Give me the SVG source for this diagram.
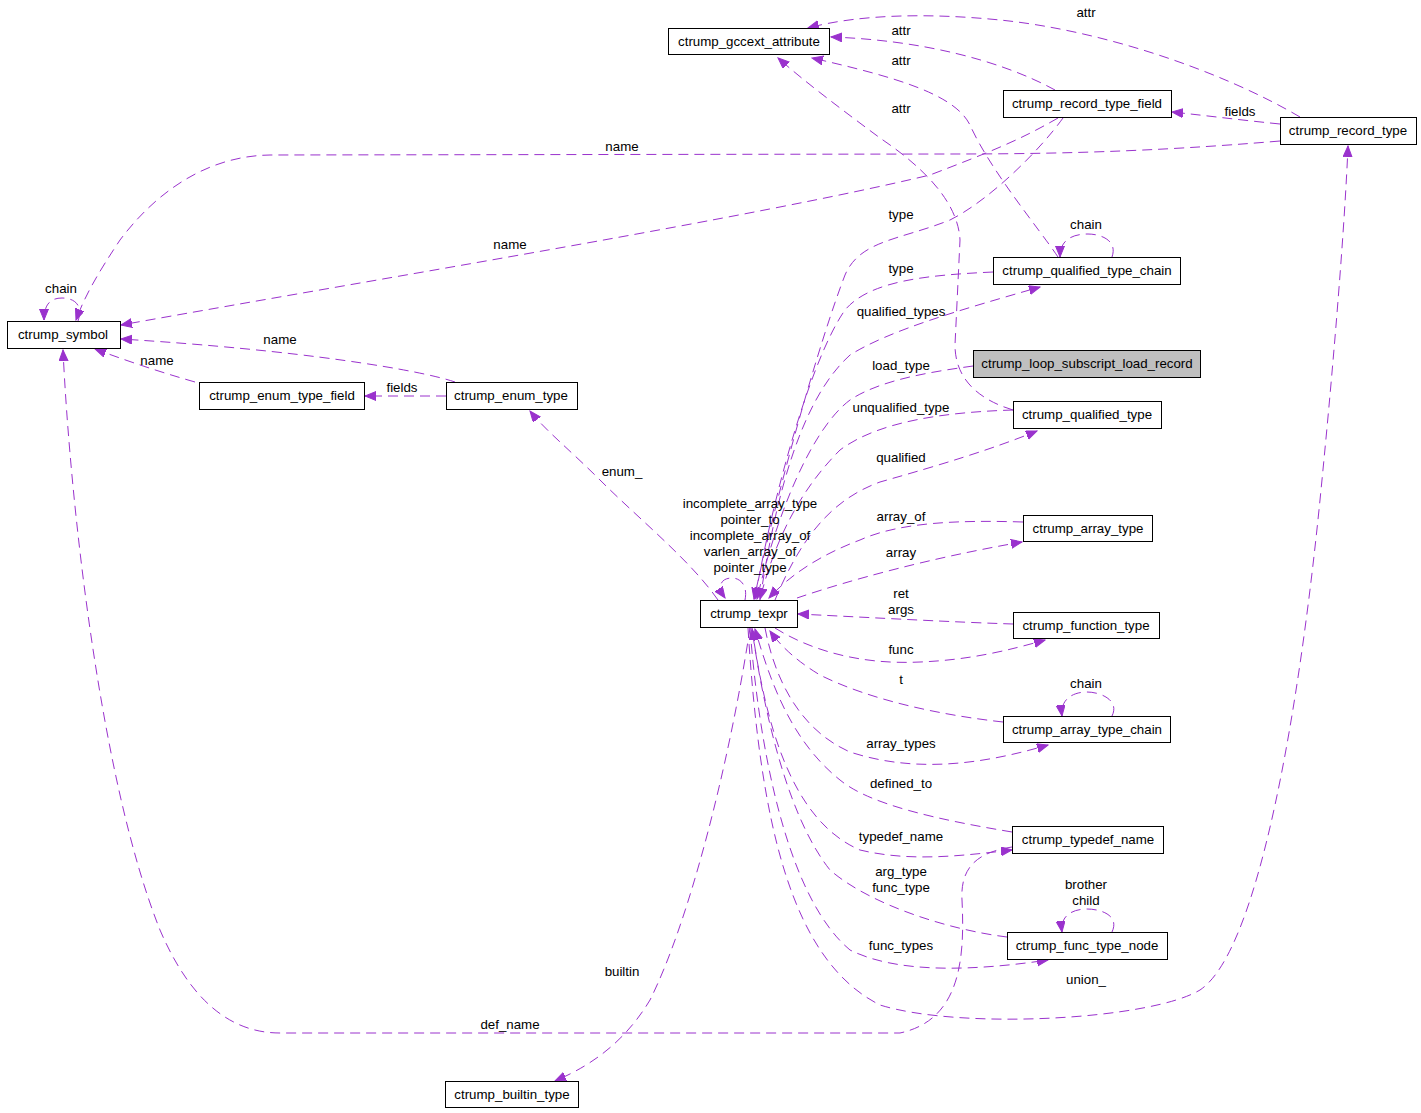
<svg xmlns="http://www.w3.org/2000/svg" width="1421" height="1113" viewBox="0 0 1421 1113">
<style>
.n rect{fill:#fff;stroke:#000;stroke-width:1}
.n.root rect{fill:#bfbfbf}
text{font-family:"Liberation Sans",Arial,sans-serif;font-size:13.3px;fill:#000;text-anchor:middle}
.e path{fill:none;stroke:#9a32cd;stroke-width:1;stroke-dasharray:10,6;marker-end:url(#ah)}
</style>
<defs>
<marker id="ah" markerUnits="userSpaceOnUse" markerWidth="12" markerHeight="10" refX="11" refY="4.5" orient="auto">
<path d="M0,0 L11,4.5 L0,9 z" fill="#9a32cd" stroke="#9a32cd"/>
</marker>
</defs>
<rect width="1421" height="1113" fill="#fff"/>
<g id="connectors" class="e">
<path d="M1300,117 C1220,70 1100,30 1000,20 C930,13 860,14 808,28"/>
<path d="M1055,90 C1000,60 920,40 831,37"/>
<path d="M1058,257 C1040,230 990,170 970,125 C955,95 900,78 812,58"/>
<path d="M1013,410 C980,400 955,380 955,345 L960,240 C958,200 920,165 880,138 C845,112 805,82 778,58"/>
<path d="M1280,124 C1240,120 1210,116 1172,112"/>
<path d="M1280,141 C1150,152 1050,154 950,154 L270,155 C200,156 150,200 120,240 C100,270 85,295 76,320"/>
<path d="M1058,118 C1020,140 990,152 930,175 C750,218 400,275 121,325"/>
<path d="M1063,118 C1040,150 990,200 950,220 C900,240 860,240 845,275 C820,340 780,480 754,599"/>
<path d="M993,272 C930,275 870,280 845,310 C810,360 772,500 755,599"/>
<path d="M760,600 C775,500 800,400 850,355 C890,330 960,310 1040,287"/>
<path d="M973,366 C930,372 880,380 850,400 C810,430 775,520 757,599"/>
<path d="M1013,410 C950,412 880,420 840,450 C800,490 775,540 760,599"/>
<path d="M775,600 C800,540 830,500 880,482 C940,465 990,450 1037,431"/>
<path d="M1023,522 C960,520 900,522 860,540 C820,555 790,575 769,598"/>
<path d="M797,598 C850,580 930,558 1022,542"/>
<path d="M1013,624 C950,622 880,618 798,614"/>
<path d="M775,628 C810,650 860,665 920,662 C970,660 1010,650 1045,640"/>
<path d="M1003,722 C940,715 870,700 820,675 C795,660 780,645 770,631"/>
<path d="M765,628 C775,680 800,730 850,752 C920,775 990,762 1048,745"/>
<path d="M1012,832 C940,820 870,805 840,780 C790,740 770,680 755,629"/>
<path d="M752,628 C765,720 790,820 860,850 C910,862 960,856 1012,850"/>
<path d="M1007,937 C950,930 870,905 830,870 C790,820 765,720 752,629"/>
<path d="M750,628 C760,760 790,900 850,950 C900,975 980,970 1048,960"/>
<path d="M748,628 C760,820 790,960 880,1005 C960,1030 1150,1020 1200,990 C1260,950 1300,700 1320,500 C1335,350 1345,220 1348,146"/>
<path d="M718,600 C690,560 640,520 600,480 C570,450 545,430 530,411"/>
<path d="M750,628 C730,760 690,920 650,1000 C620,1050 580,1070 555,1081"/>
<path d="M1012,847 C980,852 960,865 962,900 C965,960 960,1020 900,1033 L280,1033 C230,1033 190,1000 160,930 C100,780 70,500 63,350"/>
<path d="M455,382 C420,370 300,350 121,339"/>
<path d="M446,396 L365,396"/>
<path d="M195,382 C160,372 130,362 95,349"/>
<path d="M745,600 C748,585 740,578 732,578 C722,578 716,585 725,598"/>
<path d="M78,321 C84,303 72,298 62,298 C50,298 44,305 44,320"/>
<path d="M1112,257 C1118,240 1100,234 1088,234 C1072,234 1060,240 1060,257"/>
<path d="M1112,716 C1120,700 1100,692 1087,692 C1072,692 1060,700 1062,716"/>
<path d="M1112,932 C1120,915 1100,909 1087,909 C1072,909 1060,916 1062,932"/>
</g>
<g id="labels">
<text x="1086" y="17">attr</text>
<text x="901" y="35">attr</text>
<text x="901" y="65">attr</text>
<text x="901" y="113">attr</text>
<text x="1240" y="116">fields</text>
<text x="622" y="151">name</text>
<text x="901" y="219">type</text>
<text x="1086" y="229">chain</text>
<text x="510" y="249">name</text>
<text x="901" y="273">type</text>
<text x="61" y="293">chain</text>
<text x="901" y="316">qualified_types</text>
<text x="280" y="344">name</text>
<text x="157" y="365">name</text>
<text x="901" y="370">load_type</text>
<text x="402" y="392">fields</text>
<text x="901" y="412">unqualified_type</text>
<text x="901" y="462">qualified</text>
<text x="622" y="476">enum_</text>
<text x="750" y="508">incomplete_array_type</text>
<text x="750" y="524">pointer_to</text>
<text x="750" y="540">incomplete_array_of</text>
<text x="750" y="556">varlen_array_of</text>
<text x="750" y="572">pointer_type</text>
<text x="901" y="521">array_of</text>
<text x="901" y="557">array</text>
<text x="901" y="598">ret</text>
<text x="901" y="614">args</text>
<text x="901" y="654">func</text>
<text x="901" y="684">t</text>
<text x="1086" y="688">chain</text>
<text x="901" y="748">array_types</text>
<text x="901" y="788">defined_to</text>
<text x="901" y="841">typedef_name</text>
<text x="901" y="876">arg_type</text>
<text x="901" y="892">func_type</text>
<text x="1086" y="889">brother</text>
<text x="1086" y="905">child</text>
<text x="901" y="950">func_types</text>
<text x="622" y="976">builtin</text>
<text x="1086" y="984">union_</text>
<text x="510" y="1029">def_name</text>
</g>
<g id="node_gccext_attribute" class="n"><rect x="668.5" y="28.5" width="161" height="26"/><text x="749" y="46">ctrump_gccext_attribute</text></g>
<g id="node_record_type_field" class="n"><rect x="1003.5" y="90.5" width="168" height="27"/><text x="1087" y="108">ctrump_record_type_field</text></g>
<g id="node_record_type" class="n"><rect x="1280.5" y="117.5" width="136" height="27"/><text x="1348" y="135">ctrump_record_type</text></g>
<g id="node_symbol" class="n"><rect x="7.5" y="321.5" width="113" height="27"/><text x="63" y="339">ctrump_symbol</text></g>
<g id="node_enum_type_field" class="n"><rect x="199.5" y="382.5" width="165" height="27"/><text x="282" y="400">ctrump_enum_type_field</text></g>
<g id="node_enum_type" class="n"><rect x="446.5" y="382.5" width="131" height="27"/><text x="511" y="400">ctrump_enum_type</text></g>
<g id="node_qualified_type_chain" class="n"><rect x="993.5" y="257.5" width="187" height="27"/><text x="1087" y="275">ctrump_qualified_type_chain</text></g>
<g id="node_loop_subscript_load_record" class="n root"><rect x="973.5" y="350.5" width="227" height="27"/><text x="1087" y="368">ctrump_loop_subscript_load_record</text></g>
<g id="node_qualified_type" class="n"><rect x="1013.5" y="401.5" width="148" height="27"/><text x="1087" y="419">ctrump_qualified_type</text></g>
<g id="node_array_type" class="n"><rect x="1023.5" y="515.5" width="129" height="26"/><text x="1088" y="533">ctrump_array_type</text></g>
<g id="node_texpr" class="n"><rect x="700.5" y="600.5" width="97" height="27"/><text x="749" y="618">ctrump_texpr</text></g>
<g id="node_function_type" class="n"><rect x="1013.5" y="612.5" width="146" height="26"/><text x="1086" y="630">ctrump_function_type</text></g>
<g id="node_array_type_chain" class="n"><rect x="1003.5" y="716.5" width="167" height="26"/><text x="1087" y="734">ctrump_array_type_chain</text></g>
<g id="node_typedef_name" class="n"><rect x="1012.5" y="826.5" width="151" height="27"/><text x="1088" y="844">ctrump_typedef_name</text></g>
<g id="node_func_type_node" class="n"><rect x="1007.5" y="932.5" width="160" height="27"/><text x="1087" y="950">ctrump_func_type_node</text></g>
<g id="node_builtin_type" class="n"><rect x="445.5" y="1081.5" width="133" height="26"/><text x="512" y="1099">ctrump_builtin_type</text></g>
</svg>
